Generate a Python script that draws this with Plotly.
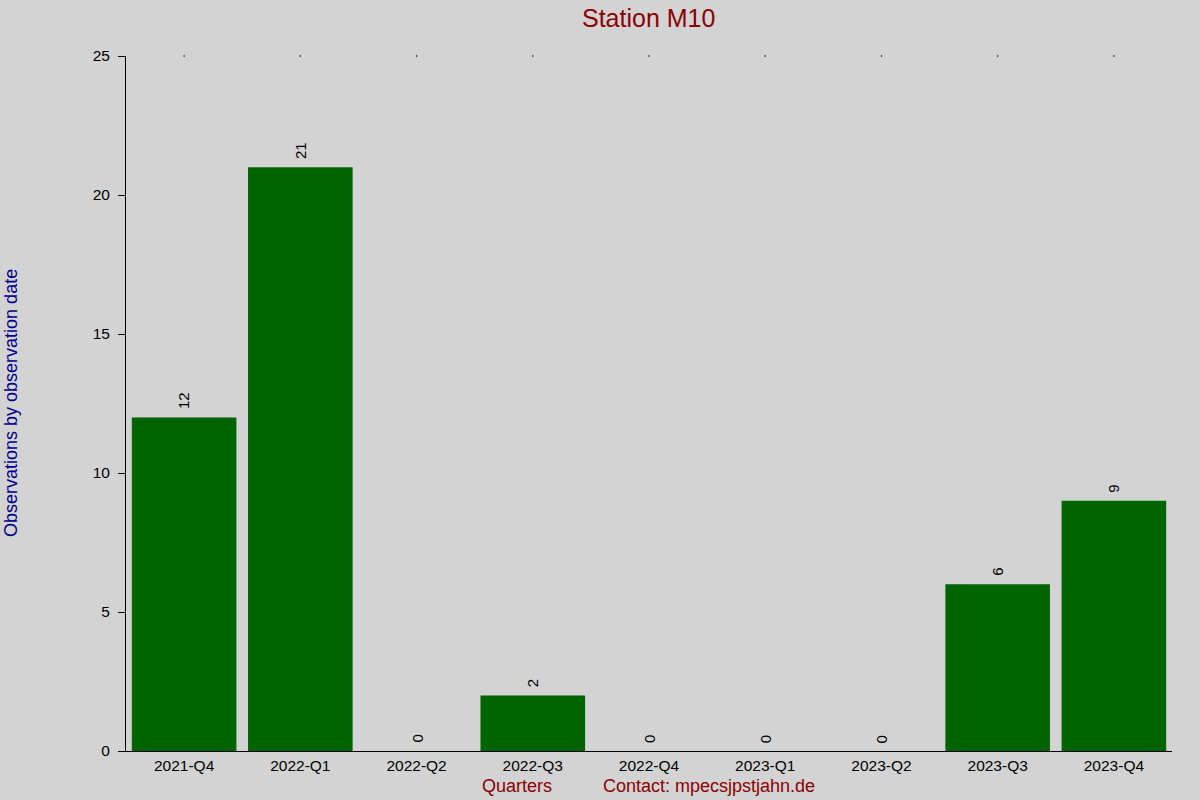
import plotly.graph_objects as go

quarters = ['2021-Q4', '2022-Q1', '2022-Q2', '2022-Q3', '2022-Q4',
            '2023-Q1', '2023-Q2', '2023-Q3', '2023-Q4']
counts = [12, 21, 0, 2, 0, 0, 0, 6, 9]
y_top = 25

W, H = 1200, 800
L, R, T, B = 126, 28, 56, 49

fig = go.Figure()
fig.add_trace(go.Bar(
    x=quarters, y=counts,
    marker=dict(color='#006400', line=dict(width=0)),
    showlegend=False, hoverinfo='x+y',
))
# tiny tick dots along the top edge
fig.add_trace(go.Scatter(
    x=quarters, y=[y_top] * len(quarters), mode='markers',
    marker=dict(color='#000000', size=1.6),
    cliponaxis=False, showlegend=False, hoverinfo='skip',
))

# value labels, rotated, just above the bars
for q, c in zip(quarters, counts):
    fig.add_annotation(x=q, y=c, text=str(c), textangle=-90, showarrow=False,
                       yanchor='bottom', yshift=6,
                       font=dict(family='Liberation Sans', size=15, color='#000000'))

def px_x(p):
    return (p - L) / (W - L - R)

def px_y(p):
    return (H - B - p) / (H - T - B)

def label(text, x, y, size, color, angle=0):
    fig.add_annotation(text=text, textangle=angle, x=px_x(x), y=px_y(y),
                       xref='paper', yref='paper', xanchor='center', yanchor='middle',
                       showarrow=False, font=dict(size=size, color=color))

fig.update_layout(
    width=W, height=H,
    paper_bgcolor='#d3d3d3', plot_bgcolor='#d3d3d3',
    margin=dict(l=L, r=R, t=T, b=B, autoexpand=False),
    bargap=0.1,
    font=dict(family='Liberation Sans', size=15, color='#000000'),
    xaxis=dict(showline=True, linecolor='#000000', linewidth=1, ticks='',
               showgrid=False, zeroline=False, automargin=False,
               tickfont=dict(size=15.5, color='#000000')),
    yaxis=dict(range=[0, y_top], dtick=5, showline=True, linecolor='#000000',
               linewidth=1, ticks='outside', ticklen=7, tickcolor='#000000',
               ticklabelstandoff=5,
               showgrid=False, zeroline=False, automargin=False,
               tickfont=dict(size=15.5, color='#000000')),
)
label('Station M10', 648, 18, 25, '#8b0000')
label('Observations by observation date', 11, 403, 18, '#00008b', angle=-90)
label('Quarters', 517, 786, 18, '#8b0000')
label('Contact: mpecsjpstjahn.de', 709, 786, 18, '#8b0000')

fig.write_html("out.html", config={'displayModeBar': False},
               post_script="document.body.style.margin='0';")
